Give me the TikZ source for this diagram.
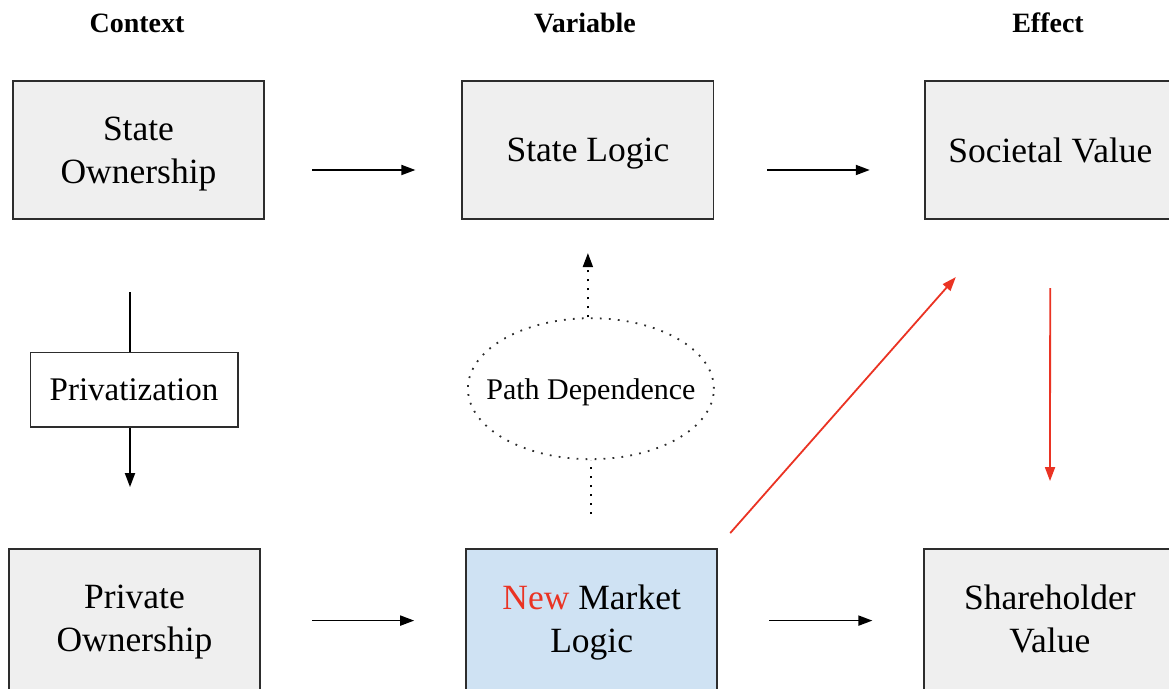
\documentclass[tikz,border=0pt]{standalone}
\usepackage{fontspec}
\setmainfont{Liberation Serif}
\usetikzlibrary{positioning,shapes.geometric,arrows.meta}

\definecolor{boxgray}{RGB}{239,239,239}
\definecolor{logicblue}{RGB}{207,226,243}
\definecolor{linered}{RGB}{234,51,35}
\definecolor{edgegray}{RGB}{45,45,45}

\tikzset{
  block/.style={draw=edgegray, line width=0.9pt, fill=boxgray, inner sep=0pt,
    minimum width=125.6pt, minimum height=69.2pt, align=center, text depth=0pt,
    font=\fontsize{17.75}{21.5}\selectfont},
  lowblock/.style={block, minimum height=71.6pt, text depth=2.4pt},
  head/.style={font=\fontsize{14}{17}\selectfont\bfseries},
  link/.style={-{Triangle[length=7pt,width=5pt]}, line width=0.9pt},
  redlink/.style={link, draw=linered, fill=linered},
  dotline/.style={line width=0.9pt, dash pattern=on 0.9pt off 3.6pt}
}

\begin{document}
\begin{tikzpicture}[x=0.5pt, y=-0.5pt, node distance=98pt]
\useasboundingbox (0,0) rectangle (1169,689);
\clip (0,0) rectangle (1169,689);

% column heads
\node (ctx) [head] at (137,23) {Context};
\node (var) [head] at (585,23) {Variable};
\node (eff) [head] at (1048,23) {Effect};

% top row
\node (own) [block] at (138.5,150) {State\\Ownership};
\node (logic) [block, right=98.2pt of own] {State Logic};
\node (societal) [block, right=104.7pt of logic] {Societal Value};

% bottom row
\node (private) [lowblock, below=164pt of own, xshift=-2pt] {Private\\Ownership};
\node (nml) [lowblock, fill=logicblue, right=102.1pt of private] {{\color{linered}New} Market\\Logic};
\node (share) [lowblock, right=102.6pt of nml] {Shareholder\\Value};

% in between
\node (priv) [block, fill=white, minimum width=103.6pt, minimum height=37.2pt,
  font=\fontsize{16.5}{20}\selectfont, below=65.8pt of own, xshift=-2.25pt] {Privatization};
\node (path) [ellipse, draw=edgegray, dotline, inner xsep=-9pt, inner ysep=0pt, text depth=0pt,
  minimum width=123pt, minimum height=70.5pt, font=\fontsize{15}{18}\selectfont,
  below=48.6pt of logic, xshift=1.5pt] {Path Dependence};

\coordinate (rs) at ([shift={(6pt,7.5pt)}]nml.north east);
\coordinate (re) at ([shift={(16pt,-28.5pt)}]societal.south west);

% black arrows
\draw [link, shorten <=23.5pt, shorten >=23pt] ([yshift=-10pt]own.east) -- ([yshift=-10pt]logic.west);
\draw [link, shorten <=26.5pt, shorten >=27pt] ([yshift=-10pt]logic.east) -- ([yshift=-10pt]societal.west);
\draw [link, shorten <=25.5pt, shorten >=25.5pt] (private) -- (nml);
\draw [link, shorten <=25.5pt, shorten >=25.5pt] (nml) -- (share);
\draw [line width=0.9pt, shorten <=36pt] ([xshift=-2pt]priv.north |- own.south) -- ([xshift=-2pt]priv.north);
\draw [link, shorten >=30.5pt] ([xshift=-2pt]priv.south) -- ([xshift=-2pt]priv.south |- private.north);

% dotted path
\draw [dotline, shorten <=17pt] (path.south |- nml.north) -- (path.south);
\draw [dotline, -{Triangle[length=7pt,width=5pt]}, shorten >=16.5pt] ([xshift=-1.5pt]path.north) -- ([xshift=-1.5pt]path.north |- logic.south);

% red arrows
\draw [redlink] (rs) -- (re);
\draw [redlink, shorten <=34pt, shorten >=33.5pt] (societal) -- (share);
\end{tikzpicture}
\end{document}
